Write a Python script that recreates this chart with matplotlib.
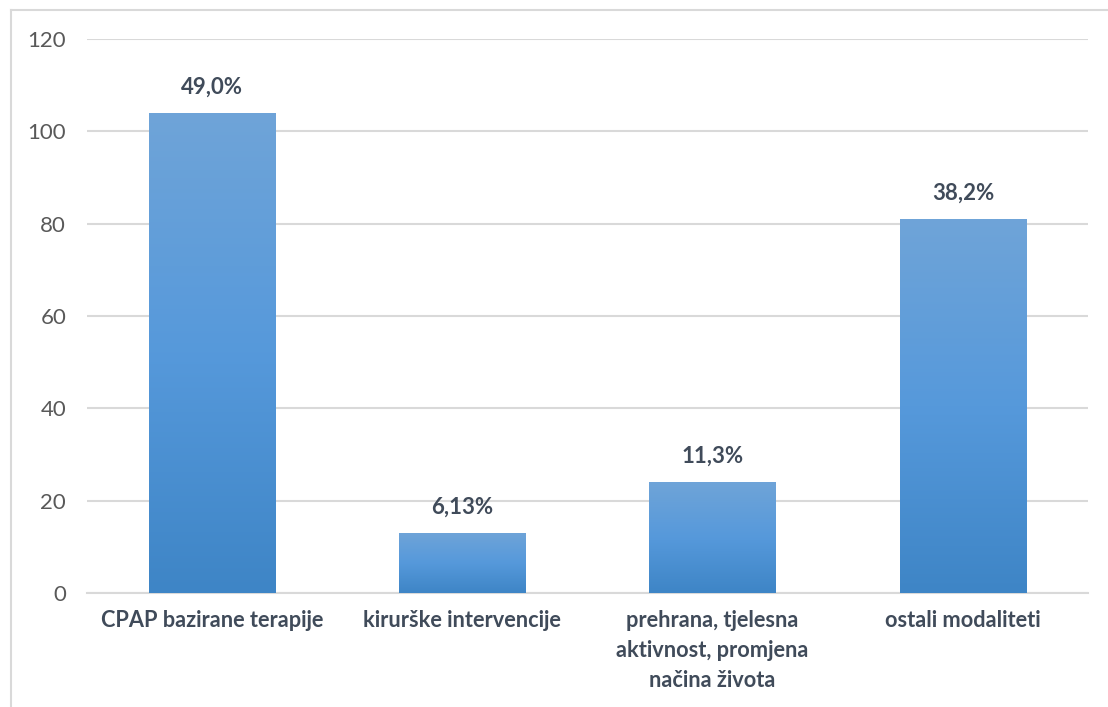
import numpy as np
import matplotlib.pyplot as plt
from matplotlib.colors import LinearSegmentedColormap
from matplotlib.lines import Line2D

categories = ["CPAP bazirane terapije", "kirurške intervencije",
              "prehrana, tjelesna\naktivnost, promjena\nnačina života", "ostali modaliteti"]
counts = [104, 13, 24, 81]
pct_labels = ["49,0%", "6,13%", "11,3%", "38,2%"]

plt.rcParams['font.family'] = ['Lato', 'DejaVu Sans']

fig = plt.figure(figsize=(11.08, 7.07), dpi=100)
ax = fig.add_axes([0.0785, 0.1612, 0.9035, 0.7836])

cmap = LinearSegmentedColormap.from_list('bar', ['#3e85c6', '#5699db', '#6fa4d8'])
grad = np.linspace(0, 1, 256).reshape(-1, 1)

x = np.arange(len(categories))
bars = ax.bar(x, counts, width=0.505, color='none', edgecolor='none', zorder=3)
for b in bars:
    x0, y0 = b.get_x(), b.get_y()
    w, h = b.get_width(), b.get_height()
    im = ax.imshow(grad, cmap=cmap, origin='lower', aspect='auto',
                   extent=[x0, x0 + w, y0, y0 + h], zorder=3)
    im.set_clip_path(b)

for xi, v, lab in zip(x, counts, pct_labels):
    ax.annotate(lab, (xi, v), xytext=(0, 11), textcoords='offset points',
                ha='center', va='bottom', fontsize=16, fontweight='bold', color='#404b5a')

ax.set_xlim(-0.5, 3.5)
ax.set_ylim(0, 120)
ax.set_yticks(range(0, 121, 20))
ax.yaxis.grid(True, color='#d9d9d9', linewidth=1.5, zorder=0)
ax.set_axisbelow(True)
for s in ['top', 'right', 'left']:
    ax.spines[s].set_visible(False)
ax.spines['bottom'].set_color('#d9d9d9')
ax.spines['bottom'].set_linewidth(1.5)
ax.tick_params(axis='both', length=0)
ax.tick_params(axis='y', labelsize=16, labelcolor='#595959', pad=15)
ax.set_xticks(x)
ax.set_xticklabels(categories, fontsize=15.7, fontweight='bold', color='#404b5a', linespacing=1.55)
ax.tick_params(axis='x', pad=12)

# chart area border (top and left edges visible)
fig.add_artist(Line2D([0.0095, 1.0], [0.986, 0.986], color='#d9d9d9', linewidth=1.5))
fig.add_artist(Line2D([0.0099, 0.0099], [0.0, 0.986], color='#d9d9d9', linewidth=1.5))

fig.savefig('out.png', dpi=100)
